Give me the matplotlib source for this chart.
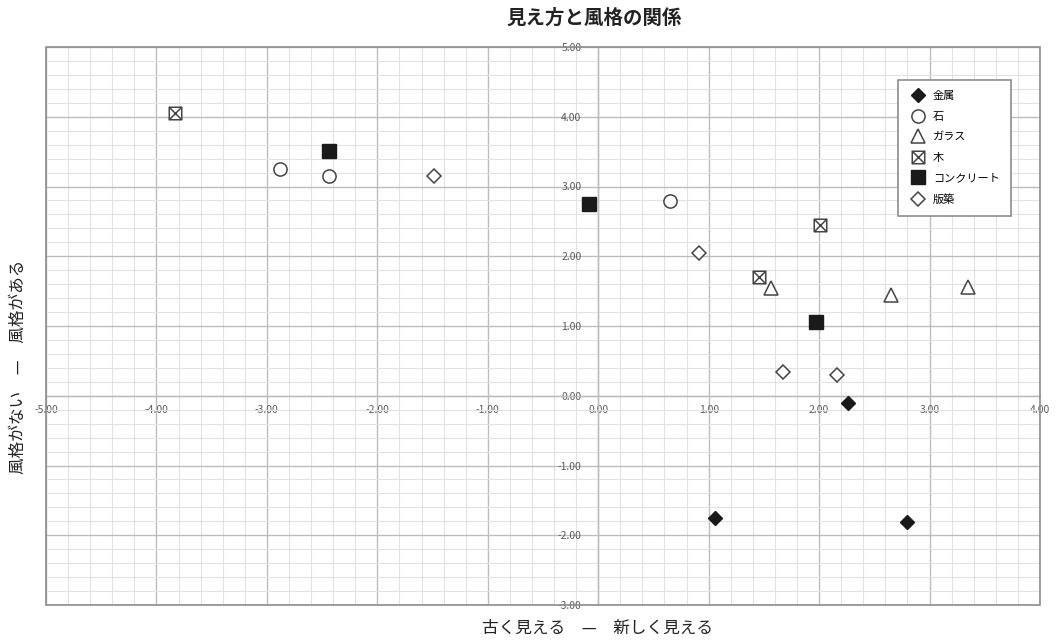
import numpy as np
import matplotlib
matplotlib.use("Agg")
import matplotlib.pyplot as plt
from matplotlib.path import Path
from matplotlib.patches import Rectangle
from matplotlib.ticker import MultipleLocator, FormatStrFormatter

plt.rcParams['font.family'] = ['Noto Sans CJK JP', 'DejaVu Sans']
plt.rcParams['axes.unicode_minus'] = False

# データ (x: 古く見える — 新しく見える, y: 風格がない — 風格がある)
kinzoku_x = [2.26, 1.06, 2.80]
kinzoku_y = [-0.10, -1.75, -1.81]
ishi_x = [-2.88, -2.44, 0.65]
ishi_y = [3.25, 3.15, 2.79]
garasu_x = [1.56, 2.65, 3.35]
garasu_y = [1.55, 1.45, 1.56]
ki_x = [-3.83, 1.46, 2.01]
ki_y = [4.05, 1.70, 2.45]
concrete_x = [-2.44, -0.08, 1.97]
concrete_y = [3.51, 2.75, 1.06]
hanchiku_x = [-1.49, 0.91, 1.67, 2.16]
hanchiku_y = [3.15, 2.05, 0.34, 0.30]

# 四角に×のマーカー
box_x = Path([(-1, -1), (1, -1), (1, 1), (-1, 1), (-1, -1),
              (-1, -1), (1, 1), (-1, 1), (1, -1)],
             [Path.MOVETO, Path.LINETO, Path.LINETO, Path.LINETO, Path.CLOSEPOLY,
              Path.MOVETO, Path.LINETO, Path.MOVETO, Path.LINETO])

dark = '#1a1a1a'
edge = '#444444'

fig = plt.figure(figsize=(10.57, 6.41), dpi=100)
ax = fig.add_axes([46/1057, 1-605/641, 994/1057, 558/641])

ax.plot(kinzoku_x, kinzoku_y, 'D', ms=7, mfc=dark, mec=dark, mew=1, label='金属', zorder=5)
ax.plot(ishi_x, ishi_y, 'o', ms=9.5, mfc='white', mec=edge, mew=1.1, label='石', zorder=5)
ax.plot(garasu_x, garasu_y, '^', ms=10, mfc='white', mec=edge, mew=1.1, label='ガラス', zorder=5)
ax.plot(ki_x, ki_y, marker=box_x, ls='none', ms=9, mfc='white', mec=edge, mew=1.1, label='木', zorder=5)
ax.plot(concrete_x, concrete_y, 's', ms=9.5, mfc=dark, mec=dark, mew=1, label='コンクリート', zorder=5)
ax.plot(hanchiku_x, hanchiku_y, 'D', ms=7, mfc='white', mec=edge, mew=1.1, label='版築', zorder=5)

ax.set_xlim(-5, 4)
ax.set_ylim(-3, 5)
ax.xaxis.set_major_locator(MultipleLocator(1))
ax.yaxis.set_major_locator(MultipleLocator(1))
ax.xaxis.set_minor_locator(MultipleLocator(0.2))
ax.yaxis.set_minor_locator(MultipleLocator(0.2))
ax.xaxis.set_major_formatter(FormatStrFormatter('%.2f'))
ax.yaxis.set_major_formatter(FormatStrFormatter('%.2f'))

ax.grid(which='major', color='#bdbdbd', lw=1.0)
ax.grid(which='minor', color='#e2e2e2', lw=0.8)
ax.set_axisbelow(True)

ax.spines['left'].set_position(('data', 0))
ax.spines['bottom'].set_position(('data', 0))
for s in ['left', 'bottom']:
    ax.spines[s].set_color('#bdbdbd')
    ax.spines[s].set_linewidth(1.0)
for s in ['top', 'right']:
    ax.spines[s].set_visible(False)
ax.add_patch(Rectangle((0, 0), 1, 1, transform=ax.transAxes, fill=False,
                       ec='#8c8c8c', lw=1.2, clip_on=False, zorder=4))

ax.tick_params(which='both', length=0)
ax.tick_params(axis='x', pad=7, labelsize=7.5, labelcolor='#5a5a5a')
ax.tick_params(axis='y', pad=12, labelsize=7.5, labelcolor='#5a5a5a')

leg = ax.legend(loc='upper right', bbox_to_anchor=(0.9708, 0.9409), borderaxespad=0,
                fontsize=8, fancybox=False, framealpha=1, edgecolor='#8c8c8c',
                handlelength=1.6, handletextpad=0.6, borderpad=1.0, labelspacing=0.95)
leg.get_frame().set_linewidth(1.2)

fig.text(594/1057, 1-18/641, '見え方と風格の関係', ha='center', va='center',
         fontsize=14, fontweight='bold', color='#222222')
fig.text(598/1057, 1-628/641, '古く見える　—　新しく見える', ha='center', va='center',
         fontsize=12, color='#222222')
fig.text(18/1057, 1-367/641, '風格がない　—　風格がある', ha='center', va='center',
         rotation=90, fontsize=12, color='#222222')

fig.savefig('out.png', dpi=100)
